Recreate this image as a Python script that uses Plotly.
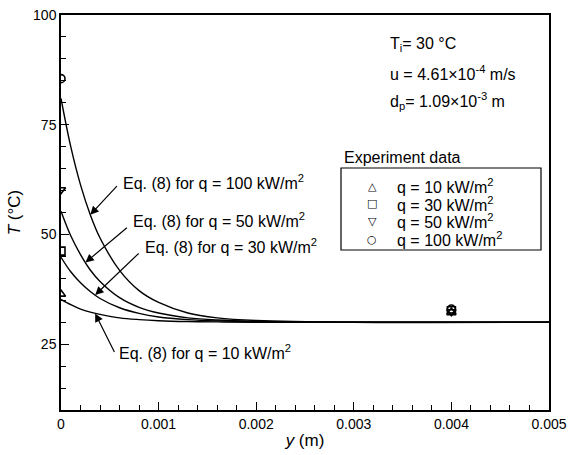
import plotly.graph_objects as go

# Eq. (8) curves
y_curve = [0, 0.0001, 0.0002, 0.0003, 0.0004, 0.0006, 0.0008, 0.001, 0.0013, 0.0016, 0.002, 0.003, 0.005]
T_q100 = [81.0, 70.0, 61.3, 54.5, 49.2, 41.8, 37.2, 34.5, 32.1, 31.0, 30.4, 30.0, 30.0]
T_q50 = [55.3, 49.7, 45.4, 41.9, 39.3, 35.6, 33.4, 32.1, 31.0, 30.5, 30.2, 30.0, 30.0]
T_q30 = [44.8, 41.5, 39.0, 37.0, 35.4, 33.3, 32.0, 31.2, 30.6, 30.3, 30.1, 30.0, 30.0]
T_q10 = [35.2, 34.0, 33.0, 32.3, 31.8, 31.0, 30.6, 30.35, 30.15, 30.07, 30.0, 30.0, 30.0]

# experiment data
y_exp = [0, 0.004]
exp_q10 = [36.4, 32.3]
exp_q30 = [46.2, 32.6]
exp_q50 = [60.2, 32.4]
exp_q100 = [85.5, 33.0]

exp_names = ["q = 10 kW/m<sup>2</sup>", "q = 30 kW/m<sup>2</sup>",
             "q = 50 kW/m<sup>2</sup>", "q = 100 kW/m<sup>2</sup>"]
exp_symbols = ["triangle-up-open", "square-open", "triangle-down-open", "circle-open"]
key_glyphs = ["△", "□", "▽", "○"]

FONT = "Liberation Sans, Arial, Helvetica, sans-serif"
TXT = 16

# pixel -> paper helpers (plot area 61..549 x 15..410)
def px(x):
    return (x - 61) / 488

def py(y):
    return (410 - y) / 395

fig = go.Figure()

for T in [T_q100, T_q50, T_q30, T_q10]:
    fig.add_trace(go.Scatter(x=y_curve, y=T, mode="lines", showlegend=False,
                             line=dict(color="black", width=1.4, shape="spline")))

for T, name, sym in zip([exp_q10, exp_q30, exp_q50, exp_q100], exp_names, exp_symbols):
    fig.add_trace(go.Scatter(x=y_exp, y=T, mode="markers", name=name, showlegend=False,
                             marker=dict(symbol=sym, size=8, color="black",
                                         line=dict(color="black", width=1.6))))

# arrow annotations: head on curve, tail at label
arrows = [
    (0.0003, 54.5, 28, -30),
    (0.00025, 43.6, 43, -36),
    (0.00035, 36.2, 45, -43),
    (0.00035, 32.0, 20, 40),
]
for x, y, ax, ay in arrows:
    fig.add_annotation(x=x, y=y, ax=ax, ay=ay, text="", showarrow=True,
                       arrowhead=2, arrowsize=1.4, arrowwidth=1.2, arrowcolor="black")

labels = [
    (0.000615, 62.0, "Eq. (8) for q = 100 kW/m<sup>2</sup>"),
    (0.000717, 53.3, "Eq. (8) for q = 50 kW/m<sup>2</sup>"),
    (0.00084, 47.4, "Eq. (8) for q = 30 kW/m<sup>2</sup>"),
    (0.000574, 23.2, "Eq. (8) for q = 10 kW/m<sup>2</sup>"),
]
for x, y, t in labels:
    fig.add_annotation(x=x, y=y, text=t, showarrow=False, xanchor="left",
                       yanchor="middle", font=dict(size=TXT, color="black"))

info = ["T<sub>i</sub>= 30 °C", "u = 4.61×10<sup>-4</sup> m/s", "d<sub>p</sub>= 1.09×10<sup>-3</sup> m"]
for i, t in enumerate(info):
    fig.add_annotation(xref="paper", yref="paper", x=px(388), y=py(45 + 28 * i), text=t,
                       showarrow=False, xanchor="left", yanchor="middle",
                       font=dict(size=TXT, color="black"))

# legend box drawn by hand (title sits outside the frame)
fig.add_annotation(xref="paper", yref="paper", x=px(342), y=py(157),
                   text="Experiment data", showarrow=False, xanchor="left",
                   yanchor="middle", font=dict(size=TXT, color="black"))
fig.add_shape(type="rect", xref="paper", yref="paper", x0=px(341), x1=px(541),
              y0=py(250), y1=py(168), line=dict(color="black", width=1.2),
              fillcolor="white", layer="below")
for i, (g, name) in enumerate(zip(key_glyphs, exp_names)):
    row = 186 + 17.7 * i
    fig.add_annotation(xref="paper", yref="paper", x=px(372), y=py(row), text="<b>" + g + "</b>",
                       showarrow=False, xanchor="center", yanchor="middle",
                       font=dict(family="DejaVu Sans", size=11, color="black"))
    fig.add_annotation(xref="paper", yref="paper", x=px(395), y=py(row), text=name,
                       showarrow=False, xanchor="left", yanchor="middle",
                       font=dict(size=TXT, color="black"))

fig.update_layout(
    width=569, height=455,
    margin=dict(l=61, r=20, t=15, b=45),
    paper_bgcolor="white", plot_bgcolor="white",
    font=dict(family=FONT, size=14, color="black"),
    showlegend=False,
)

fig.update_xaxes(range=[0, 0.005], dtick=0.001, tick0=0, ticks="inside", ticklen=8,
                 tickwidth=1, tickcolor="black", showline=True, linecolor="black",
                 linewidth=1.5, mirror=True, showgrid=False, zeroline=False, automargin=False,
                 minor=dict(dtick=0.0002, ticks="inside", ticklen=5, tickcolor="black"),
                 title=dict(text="<i>y</i> (m)", standoff=4), tickfont=dict(size=14))
fig.update_yaxes(range=[10, 100], dtick=25, tick0=0, ticks="inside", ticklen=8,
                 tickwidth=1, tickcolor="black", showline=True, linecolor="black",
                 linewidth=1.5, mirror=True, showgrid=False, zeroline=False, automargin=False,
                 minor=dict(dtick=5, ticks="inside", ticklen=5, tickcolor="black"),
                 title=dict(text="<i>T</i> (°C)", standoff=8), tickfont=dict(size=14))

fig.write_html("out.html", config={"displayModeBar": False},
               post_script="document.body.style.margin='0';")
